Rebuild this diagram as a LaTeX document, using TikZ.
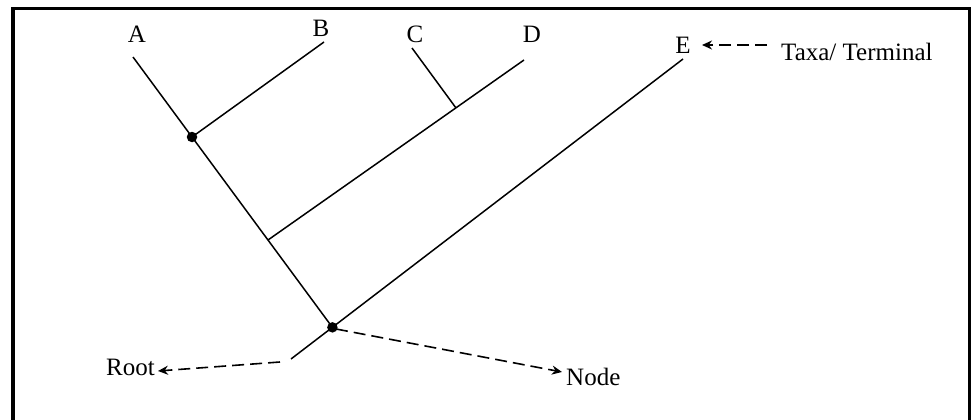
\documentclass[tikz,border=0pt]{standalone}
\usepackage{fontspec}
\setmainfont{Liberation Serif}
\usetikzlibrary{arrows.meta}
\begin{document}
\begin{tikzpicture}[x=1pt,y=-1pt,
  branch/.style={line width=1.5pt,black},
  pointer/.style={line width=1.6pt,dash pattern=on 12pt off 6pt,-{Stealth[length=10pt,width=9pt]}},
  taxon/.style={font=\fontsize{25}{29}\selectfont,inner sep=0pt,anchor=base},
  callout/.style={font=\fontsize{25}{29}\selectfont,inner sep=0pt},
  dotnode/.style={circle,fill=black,inner sep=0pt,minimum size=10.5pt}]
\useasboundingbox (0,0) rectangle (972,420);
% frame
\draw[line width=3.6pt] (13,420) -- (13,8.5) -- (969.5,8.5) -- (969.5,420);
% tips of branches
\coordinate (tA) at (133,57);
\coordinate (tB) at (324,42);
\coordinate (tC) at (412,48);
\coordinate (tD) at (524,60);
\coordinate (tE) at (683,59);
\coordinate (nAB) at (192,137);
\coordinate (rootEnd) at (291,359);
\coordinate (nD) at (268,240);
\coordinate (nCD) at (456,108);
\coordinate (R) at (intersection of tA--nAB and tE--rootEnd);
% branches
\draw[branch] (tA) -- (R);
\draw[branch] (nAB) -- (tB);
\draw[branch] (nD) -- (tD);
\draw[branch] (tC) -- (nCD);
\draw[branch] (rootEnd) -- (tE);
\node[dotnode] (dAB) at (nAB) {};
\node[dotnode] (dR) at (R) {};
% labels
\node[taxon] (lA) at (137,43) {A};
\node[taxon] (lB) at (321,37) {B};
\node[taxon] (lC) at (415,43) {C};
\node[taxon] (lD) at (532,43) {D};
\node[taxon] (lE) at (683,54) {E};
\node[callout,anchor=base west] (lTaxa) at (781,61) {Taxa/ Terminal};
\node[callout,anchor=base east] (lRoot) at (155,375) {Root};
\node[callout,anchor=base west] (lNode) at (566,385) {Node};
% pointers
\coordinate (taxaStart) at (767,45);
\coordinate (taxaTip) at (702,45);
\coordinate (rootStart) at (280,362);
\coordinate (rootTip) at (158,371);
\coordinate (nodeStart) at (336,329);
\coordinate (nodeTip) at (562,372);
\draw[pointer] (taxaStart) -- (taxaTip);
\draw[pointer] (rootStart) -- (rootTip);
\draw[pointer] (nodeStart) -- (nodeTip);
\end{tikzpicture}
\end{document}
